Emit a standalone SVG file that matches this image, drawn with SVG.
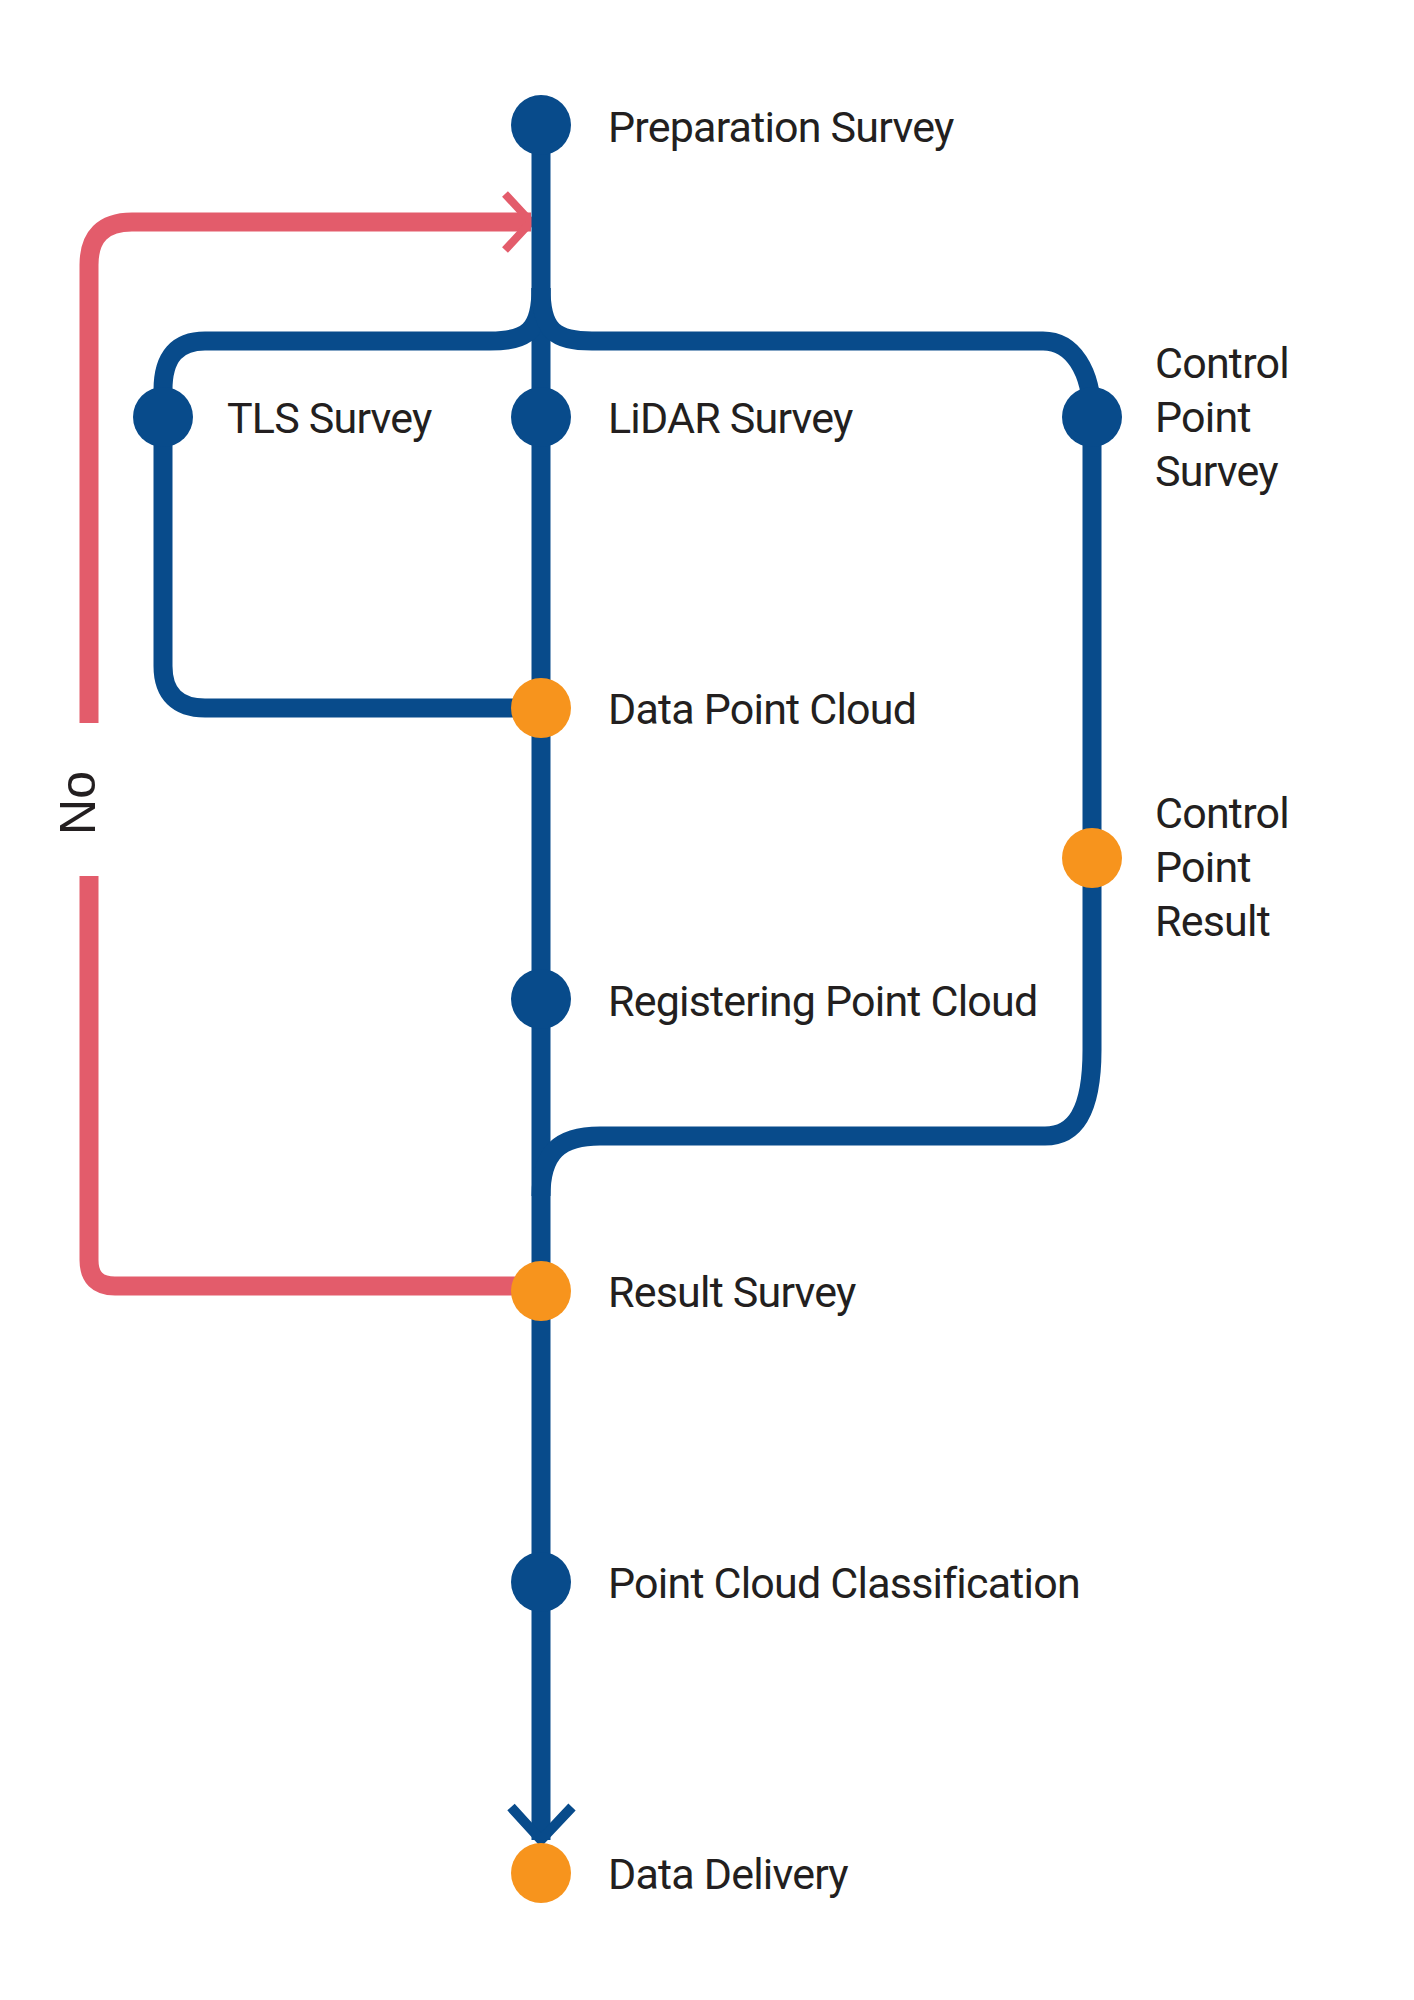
<svg xmlns="http://www.w3.org/2000/svg" width="1414" height="2000" viewBox="0 0 1414 2000">
<style>
.blue{fill:none;stroke:#084B8B;stroke-width:19;stroke-linejoin:round}
.red{fill:none;stroke:#E35C6B;stroke-width:19}
.chev-r{fill:none;stroke:#E35C6B;stroke-width:8}
.chev-b{fill:none;stroke:#084B8B;stroke-width:10}
.nb{fill:#084B8B}
.no{fill:#F7941D}
.lbl{font-family:Roboto,"Liberation Sans",sans-serif;font-size:43px;fill:#231F20;letter-spacing:-0.8px}
.no-lbl{font-family:"Liberation Sans",Arial,sans-serif;font-size:50px;fill:#231F20}
</style>
<rect width="1414" height="2000" fill="#ffffff"/>
<g id="connectors">
  <path class="red" d="M89,723 L89,265 Q89,222 132,222 L531,222"/>
  <path class="chev-r" d="M505,194 L531,222 L505,250"/>
  <path class="red" d="M89,876 L89,1260 Q89,1286 115,1286 L541,1286"/>
  <path class="blue" d="M541,125 L541,1840"/>
  <path class="blue" d="M541,288 C541,331 527,341 490,341 L205,341 C178,341 163,356 163,390 L163,666 C163,694 178,708 205,708 L541,708"/>
  <path class="blue" d="M541,288 C541,331 555,341 592,341 L1043,341 C1072,341 1092,370 1092,417 L1092,1050 C1092,1112 1075,1136 1045,1136 L600,1136 C560,1136 541,1152 541,1196"/>
  <path class="chev-b" d="M511,1807 L541,1840 L572,1807"/>
  <text class="no-lbl" transform="translate(95,803) rotate(-90)" text-anchor="middle">No</text>
</g>
<g id="node-preparation"><circle class="nb" cx="541" cy="125" r="30"/><text class="lbl" x="608" y="142">Preparation Survey</text></g>
<g id="node-tls"><circle class="nb" cx="163" cy="417" r="30"/><text class="lbl" x="227" y="433">TLS Survey</text></g>
<g id="node-lidar"><circle class="nb" cx="541" cy="417" r="30"/><text class="lbl" x="608" y="433">LiDAR Survey</text></g>
<g id="node-cps"><circle class="nb" cx="1092" cy="417" r="30"/><text class="lbl" x="1155" y="378">Control</text><text class="lbl" x="1155" y="432">Point</text><text class="lbl" x="1155" y="486">Survey</text></g>
<g id="node-dpc"><circle class="no" cx="541" cy="708" r="30"/><text class="lbl" x="608" y="724">Data Point Cloud</text></g>
<g id="node-cpr"><circle class="no" cx="1092" cy="858" r="30"/><text class="lbl" x="1155" y="828">Control</text><text class="lbl" x="1155" y="882">Point</text><text class="lbl" x="1155" y="936">Result</text></g>
<g id="node-reg"><circle class="nb" cx="541" cy="999" r="30"/><text class="lbl" x="608" y="1016">Registering Point Cloud</text></g>
<g id="node-result"><circle class="no" cx="541" cy="1291" r="30"/><text class="lbl" x="608" y="1307">Result Survey</text></g>
<g id="node-class"><circle class="nb" cx="541" cy="1582" r="30"/><text class="lbl" x="608" y="1598">Point Cloud Classification</text></g>
<g id="node-delivery"><circle class="no" cx="541" cy="1873" r="30"/><text class="lbl" x="608" y="1889">Data Delivery</text></g>
</svg>
